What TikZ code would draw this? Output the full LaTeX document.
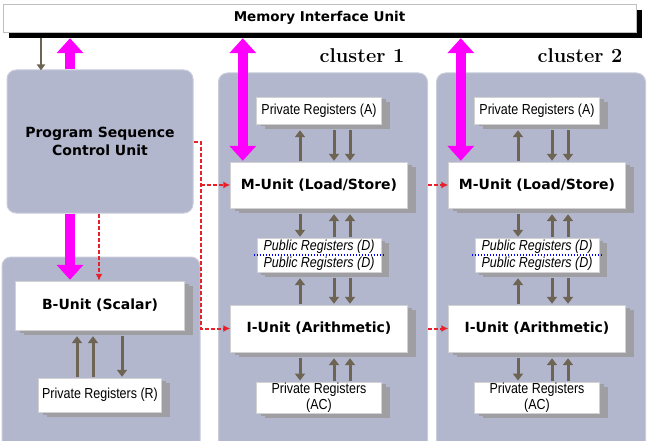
\documentclass[tikz,border=0pt]{standalone}
\usepackage{fontspec}
\newfontfamily\unitfont{DejaVu Sans}
\newfontfamily\regfont[FakeStretch=0.86]{Liberation Sans}
\usetikzlibrary{arrows.meta,shadows}

\definecolor{clusterfill}{HTML}{B3B7CD}
\definecolor{clusteredge}{HTML}{C9CCDB}
\definecolor{sidegray}{HTML}{9E9EA3}
\definecolor{regbrown}{HTML}{6E6454}
\definecolor{busmagenta}{HTML}{FF00FF}
\definecolor{ctlred}{HTML}{E8202A}

\tikzset{
	cluster/.style={draw=clusteredge, line width=1pt, fill=clusterfill, rounded corners=9pt},
	clusterlbl/.style={anchor=base, font=\fontsize{20}{24}\selectfont\bfseries},
	membar/.style={draw=gray!50, fill=white, minimum width=633pt, minimum height=28pt,
		font=\unitfont\bfseries\fontsize{13.5}{16}\selectfont,
		drop shadow={shadow xshift=6pt, shadow yshift=-6pt, opacity=1, fill=black}},
	unitbox/.style={draw=gray!35, fill=white, inner sep=1pt, align=center,
		font=\unitfont\bfseries\fontsize{14}{16}\selectfont,
		drop shadow={shadow xshift=4pt, shadow yshift=-2.5pt, opacity=1, fill=sidegray},
		drop shadow={shadow xshift=8pt, shadow yshift=-5pt, opacity=1, fill=sidegray}},
	regbox/.style={unitbox, font=\regfont\fontsize{14.5}{16}\selectfont},
	pubbox/.style={unitbox, font=\regfont\itshape\fontsize{14.5}{17}\selectfont},
	regarr/.style={line width=3pt, draw=regbrown, shorten >=6pt, shorten <=1pt},
	regup/.style={regarr, -{Triangle[width=10pt,length=7pt]}},
	regdn/.style={regarr, {Triangle[width=10pt,length=7pt]}-},
	busarr/.style={line width=10pt, draw=busmagenta, >={Triangle[width=26pt,length=15pt]}},
	ctl/.style={draw=ctlred, line width=2pt, dash pattern=on 4pt off 2pt, -{Latex[length=7pt,width=7pt]}},
	pubsep/.style={draw=blue, line width=1.2pt, dash pattern=on 1.5pt off 1.5pt}
}

\begin{document}
\begin{tikzpicture}[x=1pt,y=-1pt]
	\useasboundingbox (0,0) rectangle (650,441);
	\clip (0,0) rectangle (650,441);

	\node[membar] (miu) at (319.5,18) {Memory Interface Unit};

	% scalar side
	\node[cluster, align=center, font=\unitfont\bfseries\fontsize{14}{18}\selectfont,
		minimum width=186pt, minimum height=143pt] (pscu) at (100,141.5) {Program Sequence\\Control Unit};
	\node[cluster, minimum width=198pt, minimum height=195pt] (bside) at (101,354.5) {};
	\node[unitbox, minimum width=169pt, minimum height=49pt] (bu) at (100,305.5) {B-Unit (Scalar)};
	\node[regbox, minimum width=123pt, minimum height=34pt] (prr) at (100,395) {Private Registers (R)};

	\foreach \dx in {-23,-7}
		\draw[regup] ([xshift=\dx pt]prr.north) -- ([xshift=\dx pt]bu.south);
	\draw[regdn] ([xshift=22pt]prr.north) -- ([xshift=22pt]bu.south);

	% clusters
	\foreach \c/\x in {1/319,2/537}{
		\node[cluster, minimum width=209pt, minimum height=380pt] (cl\c) at (\x+4,263) {};
		\node[clusterlbl] (lbl\c) at (\x+43,63) {cluster \c};
		\node[regbox, minimum width=125pt, minimum height=27pt] (pra\c) at (\x,110.5) {Private Registers (A)};
		\node[unitbox, minimum width=177pt, minimum height=46pt] (mu\c) at (\x,185) {M-Unit (Load/Store)};
		\node[pubbox, minimum width=124pt, minimum height=34pt] (pub\c) at (\x,255) {Public Registers (D)\\Public Registers (D)};
		\node[unitbox, minimum width=177pt, minimum height=47pt] (iu\c) at (\x,328.5) {I-Unit (Arithmetic)};
		\node[regbox, minimum width=125pt, minimum height=31pt, align=center] (prac\c) at (\x,397.5) {Private Registers\\(AC)};
		\draw[pubsep] ([xshift=-3pt]pub\c.west) -- ([xshift=4pt]pub\c.east);

		\foreach \hi/\lo/\l/\r in {pra/mu/regup/regdn, mu/pub/regdn/regup, pub/iu/regup/regdn, iu/prac/regdn/regup}{
			\draw[\l] ([xshift=-19pt]\lo\c.north) -- ([xshift=-19pt]\hi\c.south);
			\draw[\r] ([xshift=15pt]\lo\c.north) -- ([xshift=15pt]\hi\c.south);
			\draw[\r] ([xshift=31pt]\lo\c.north) -- ([xshift=31pt]\hi\c.south);
		}

		\coordinate (bus\c) at ([xshift=12.5pt]mu\c.north west);
		\draw[busarr, <->, shorten <=6pt, shorten >=1pt] (bus\c |- miu.south) -- (bus\c);
	}

	% memory links of the scalar side
	\coordinate (busl) at ([xshift=-30pt]pscu.north);
	\draw[busarr, ->, shorten >=6pt] (busl) -- (busl |- miu.south);
	\coordinate (busb) at ([xshift=-30pt]pscu.south);
	\draw[busarr, ->, shorten >=1pt] (busb) -- (busb |- bu.north);
	\coordinate (ctlin) at ([xshift=-59pt]pscu.north);
	\draw[line width=2.5pt, draw=regbrown, -{Triangle[width=8pt,length=6pt]}, shorten <=6pt, shorten >=-1pt]
		(ctlin |- miu.south) -- (ctlin);

	% control
	\coordinate (split) at ([xshift=7pt]pscu.east);
	\draw[ctl] (pscu.east) -- (split) |- (iu1.west);
	\draw[ctl] (split |- mu1.west) -- (mu1.west);
	\coordinate (ctlb) at ([xshift=-1pt]pscu.south);
	\draw[ctl] (ctlb) -- (ctlb |- bu.north);
	\draw[ctl] (cl1.east |- mu2.west) -- (mu2.west);
	\draw[ctl] (cl1.east |- iu2.west) -- (iu2.west);
\end{tikzpicture}
\end{document}
